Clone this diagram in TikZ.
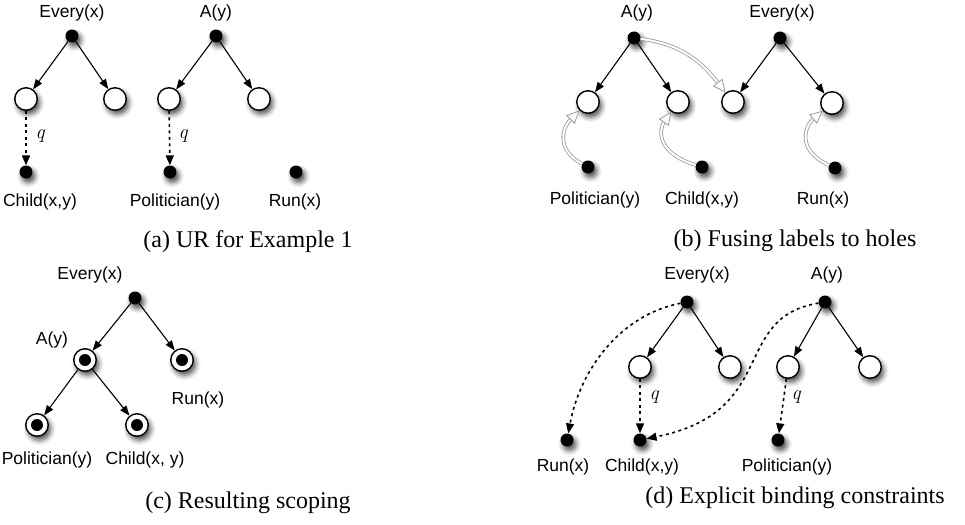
\documentclass[tikz,border=0pt]{standalone}
\usepackage{fontspec}
\newfontfamily\labfont{Liberation Sans}
\newfontfamily\capfont{Liberation Serif}
\usetikzlibrary{arrows.meta,shadows.blur}
\tikzset{
  shad/.style={blur shadow={shadow xshift=2.5pt, shadow yshift=-4pt, shadow blur radius=5pt, shadow opacity=70}},
  dot/.style={circle, fill=black, inner sep=0pt, minimum size=13pt, shad},
  hole/.style={circle, draw=black, line width=1.4pt, fill=white, inner sep=0pt, minimum size=22.5pt, shad},
  fullhole/.style={hole, path picture={\fill[black] (path picture bounding box.center) circle (6pt);}},
  lab/.style={font=\fontsize{17.5}{20}\selectfont\labfont, inner sep=0pt},
  captext/.style={font=\fontsize{24}{28}\selectfont\capfont, inner sep=0pt},
  ql/.style={font=\fontsize{20}{22}\selectfont\itshape, inner sep=0pt},
  arr/.style={line width=1.1pt, -{Triangle[length=10pt,width=7.5pt]}},
  qarr/.style={line width=1.6pt, dash pattern=on 3pt off 3.5pt, -{Triangle[length=10pt,width=8pt]}},
  fuse/.style={draw=gray!80, double=white, double distance=2pt, line width=0.8pt, -{Triangle[open, length=13pt, width=12pt, fill=white]}},
}
\begin{document}
\begin{tikzpicture}[x=1pt,y=-1pt]
\useasboundingbox (0,0) rectangle (965,524);
% ---------- (a) ----------
\node[lab] (a-lEvery) at (72,13) {Every(x)};
\node[dot] (a-every) at (72,36) {};
\node[hole] (a-h1) at (26,99) {};
\node[hole] (a-h2) at (115,99) {};
\node[dot] (a-child) at (26,172) {};
\node[lab] (a-lChild) at (40,202) {Child(x,y)};
\node[lab] (a-lA) at (216,13) {A(y)};
\node[dot] (a-a) at (216,36) {};
\node[hole] (a-h3) at (169,99) {};
\node[hole] (a-h4) at (259,99) {};
\node[dot] (a-pol) at (170,172) {};
\node[lab] (a-lPol) at (175,202) {Politician(y)};
\node[dot] (a-run) at (296,172) {};
\node[lab] (a-lRun) at (295,202) {Run(x)};
\node[ql] (a-q1) at (40,136) {q};
\node[ql] (a-q2) at (183,136) {q};
\draw[arr] (a-every) -- (a-h1);
\draw[arr] (a-every) -- (a-h2);
\draw[arr] (a-a) -- (a-h3);
\draw[arr] (a-a) -- (a-h4);
\draw[qarr] (a-h1) -- (a-child);
\draw[qarr] (a-h3) -- (a-pol);
\node[captext] (a-cap) at (248,242) {(a) UR for Example 1};
% ---------- (b) ----------
\node[lab] (b-lA) at (637,13) {A(y)};
\node[dot] (b-a) at (634,38) {};
\node[lab] (b-lEvery) at (782,13) {Every(x)};
\node[dot] (b-every) at (780,38) {};
\node[hole] (b-h1) at (588,102) {};
\node[hole] (b-h2) at (678,102) {};
\node[hole] (b-h3) at (733,102) {};
\node[hole] (b-h4) at (832,103) {};
\node[dot] (b-pol) at (588,167) {};
\node[dot] (b-child) at (702,167) {};
\node[dot] (b-run) at (835,168) {};
\node[lab] (b-lPol) at (595,200) {Politician(y)};
\node[lab] (b-lChild) at (702,200) {Child(x,y)};
\node[lab] (b-lRun) at (823,200) {Run(x)};
\draw[arr] (b-a) -- (b-h1);
\draw[arr] (b-a) -- (b-h2);
\draw[arr] (b-every) -- (b-h3);
\draw[arr] (b-every) -- (b-h4);
\draw[fuse] (b-a) .. controls (680,44) and (700,60) .. (b-h3);
\draw[fuse] (b-pol) .. controls (556,150) and (562,128) .. (b-h1);
\draw[fuse] (b-child) .. controls (654,152) and (660,128) .. (b-h2);
\draw[fuse] (b-run) .. controls (796,150) and (805,126) .. (b-h4);
\node[captext] (b-cap) at (795,241) {(b) Fusing labels to holes};
% ---------- (c) ----------
\node[lab] (c-lEvery) at (90,275) {Every(x)};
\node[dot] (c-every) at (135,298) {};
\node[lab] (c-lA) at (52,340) {A(y)};
\node[fullhole] (c-a) at (85,360) {};
\node[fullhole] (c-run) at (182,360) {};
\node[lab] (c-lRun) at (198,400) {Run(x)};
\node[fullhole] (c-pol) at (37,425) {};
\node[fullhole] (c-child) at (137,425) {};
\node[lab] (c-lPol) at (47,460) {Politician(y)};
\node[lab] (c-lChild) at (145,460) {Child(x, y)};
\draw[arr] (c-every) -- (c-a);
\draw[arr] (c-every) -- (c-run);
\draw[arr] (c-a) -- (c-pol);
\draw[arr] (c-a) -- (c-child);
\node[captext] (c-cap) at (248,503) {(c) Resulting scoping};
% ---------- (d) ----------
\node[lab] (d-lEvery) at (697,275) {Every(x)};
\node[dot] (d-every) at (687,302) {};
\node[hole] (d-h1) at (640,367) {};
\node[hole] (d-h2) at (730,367) {};
\node[lab] (d-lA) at (827,275) {A(y)};
\node[dot] (d-a) at (825,302) {};
\node[hole] (d-h3) at (788,367) {};
\node[hole] (d-h4) at (870,367) {};
\node[dot] (d-run) at (567,440) {};
\node[dot] (d-child) at (640,440) {};
\node[dot] (d-pol) at (778,440) {};
\node[lab] (d-lRun) at (563,467) {Run(x)};
\node[lab] (d-lChild) at (642,467) {Child(x,y)};
\node[lab] (d-lPol) at (787,467) {Politician(y)};
\node[ql] (d-q1) at (654,397) {q};
\node[ql] (d-q2) at (796,397) {q};
\draw[arr] (d-every) -- (d-h1);
\draw[arr] (d-every) -- (d-h2);
\draw[arr] (d-a) -- (d-h3);
\draw[arr] (d-a) -- (d-h4);
\draw[qarr] (d-h1) -- (d-child);
\draw[qarr] (d-h3) -- (d-pol);
\draw[qarr] (d-every) .. controls (620,315) and (580,370) .. (d-run);
\draw[qarr] (d-a) .. controls (730,318) and (780,412) .. (d-child);
\node[captext] (d-cap) at (795,498) {(d) Explicit binding constraints};
\end{tikzpicture}
\end{document}
